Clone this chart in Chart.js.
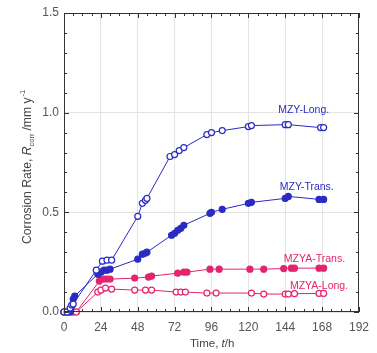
<!DOCTYPE html>
<html>
<head>
<meta charset="utf-8">
<script src="https://cdn.jsdelivr.net/npm/chart.js@4.4.1/dist/chart.umd.min.js"></script>
<style>
  html, body { margin: 0; padding: 0; background: #fff; }
  #wrap { width: 377px; height: 353px; }
</style>
</head>
<body>
<div id="wrap"><canvas id="chart"></canvas></div>
<script>
// series (time in h, rate in mm/y)
const mzyLongT = [0, 2, 4, 5, 6, 21, 25, 28, 31, 48, 51, 53, 54, 69, 72, 75, 78, 93, 96, 103, 120, 122, 144, 146, 167, 169];
const mzyLongR = [0, 0, 0.02, 0.035, 0.04, 0.21, 0.255, 0.26, 0.26, 0.48, 0.545, 0.56, 0.57, 0.78, 0.79, 0.81, 0.825, 0.89, 0.9, 0.91, 0.93, 0.935, 0.94, 0.94, 0.925, 0.925];

const mzyTransT = [0, 2, 4, 5, 6, 7, 22, 24, 26, 28, 30, 48, 51, 53, 54, 70, 72, 74, 76, 78, 95, 96, 103, 120, 122, 144, 146, 166, 169];
const mzyTransR = [0, 0, 0, 0.03, 0.065, 0.08, 0.19, 0.2, 0.21, 0.21, 0.215, 0.265, 0.29, 0.295, 0.3, 0.385, 0.395, 0.41, 0.42, 0.435, 0.495, 0.5, 0.515, 0.545, 0.55, 0.57, 0.58, 0.565, 0.565];

const mzyaTransT = [0, 2, 4, 6, 8, 23, 24, 26, 28, 30, 46, 55, 57, 74, 78, 80, 95, 101, 121, 130, 143, 148, 150, 166, 169];
const mzyaTransR = [0, 0, 0, 0, 0, 0.155, 0.165, 0.165, 0.165, 0.165, 0.17, 0.175, 0.18, 0.195, 0.2, 0.2, 0.215, 0.215, 0.215, 0.215, 0.218, 0.22, 0.22, 0.22, 0.22];

const mzyaLongT = [0, 2, 4, 6, 8, 22, 24, 27, 31, 46, 53, 57, 73, 76, 79, 93, 99, 122, 130, 144, 146, 150, 166, 169];
const mzyaLongR = [0, 0, 0, 0, 0, 0.1, 0.11, 0.12, 0.115, 0.11, 0.11, 0.11, 0.1, 0.1, 0.1, 0.095, 0.095, 0.095, 0.09, 0.09, 0.09, 0.092, 0.093, 0.093];

const xTicks = [0, 24, 48, 72, 96, 120, 144, 168, 192];
const yTicks = [0, 0.5, 1.0, 1.5];

const BLUE = "#2b2bc4";
const PINK = "#e3246e";
const FONT = "'Liberation Sans', Arial, sans-serif";

function pts(t, r) {
  return t.map((v, i) => ({ x: v, y: r[i] }));
}

function series(name, t, r, color, filled) {
  return {
    label: name,
    data: pts(t, r),
    borderColor: color,
    borderWidth: 1,
    pointRadius: 3,
    pointBorderWidth: 1.2,
    pointBorderColor: color,
    pointBackgroundColor: filled ? color : "#fff",
    tension: 0,
    clip: false,
  };
}

// in-plot labels, placed in data units
const labelNames = ["MZY-Long.", "MZY-Trans.", "MZYA-Trans.", "MZYA-Long."];
const labelT = [156, 158, 163, 166];
const labelR = [1.013, 0.627, 0.266, 0.13];
const labelColors = [BLUE, BLUE, PINK, PINK];

const framePlugin = {
  id: "frame",
  afterDraw(chart) {
    const ctx = chart.ctx;
    const a = chart.chartArea;
    const xs = chart.scales.x;
    const ys = chart.scales.y;
    ctx.save();
    ctx.strokeStyle = "#333";
    ctx.lineWidth = 1;
    ctx.strokeRect(a.left + 0.5, a.top + 0.5, a.right - a.left - 1, a.bottom - a.top - 1);
    // ticks on all four sides, pointing in
    ctx.beginPath();
    for (let t = 0; t <= 192; t += 6) {
      const px = Math.round(xs.getPixelForValue(t)) + 0.5;
      const len = t % 24 === 0 ? 5 : 3;
      ctx.moveTo(px, a.bottom);
      ctx.lineTo(px, a.bottom - len);
      ctx.moveTo(px, a.top);
      ctx.lineTo(px, a.top + len);
    }
    for (let k = 0; k <= 15; k++) {
      const py = Math.round(ys.getPixelForValue(k / 10)) + 0.5;
      const len = k % 5 === 0 ? 5 : 3;
      ctx.moveTo(a.left, py);
      ctx.lineTo(a.left + len, py);
      ctx.moveTo(a.right, py);
      ctx.lineTo(a.right - len, py);
    }
    ctx.stroke();

    // series labels
    ctx.font = "10.5px " + FONT;
    ctx.textAlign = "center";
    ctx.textBaseline = "middle";
    labelNames.forEach((s, i) => {
      ctx.fillStyle = labelColors[i];
      ctx.fillText(s, xs.getPixelForValue(labelT[i]), ys.getPixelForValue(labelR[i]));
    });

    // axis titles
    ctx.fillStyle = "#444";
    ctx.textBaseline = "alphabetic";
    ctx.textAlign = "left";
    let x = 190;
    const yb = 347;
    ctx.font = "11.5px " + FONT;
    ctx.fillText("Time, ", x, yb);
    x += ctx.measureText("Time, ").width;
    ctx.font = "italic 11.5px " + FONT;
    ctx.fillText("t", x, yb);
    x += ctx.measureText("t").width;
    ctx.font = "11.5px " + FONT;
    ctx.fillText("/h", x, yb);

    ctx.translate(31, 244);
    ctx.rotate(-Math.PI / 2);
    let p = 0;
    ctx.font = "12.2px " + FONT;
    ctx.fillText("Corrosion Rate, ", p, 0);
    p += ctx.measureText("Corrosion Rate, ").width;
    ctx.font = "italic 12.2px " + FONT;
    ctx.fillText("R", p, 0);
    p += ctx.measureText("R").width;
    ctx.font = "7.5px " + FONT;
    ctx.fillText("corr", p, 3);
    p += ctx.measureText("corr").width + 3;
    ctx.font = "12.2px " + FONT;
    ctx.fillText("/mm y", p, 0);
    p += ctx.measureText("/mm y").width;
    ctx.font = "7.5px " + FONT;
    ctx.fillText("-1", p + 1, -6);
    ctx.restore();
  },
};

new Chart(document.getElementById("chart"), {
  type: "line",
  data: {
    datasets: [
      series("MZY-Long.", mzyLongT, mzyLongR, BLUE, false),
      series("MZY-Trans.", mzyTransT, mzyTransR, BLUE, true),
      series("MZYA-Long.", mzyaLongT, mzyaLongR, PINK, false),
      series("MZYA-Trans.", mzyaTransT, mzyaTransR, PINK, true),
    ],
  },
  options: {
    responsive: true,
    maintainAspectRatio: false,
    animation: false,
    layout: { padding: { top: 13, right: 12, left: 0, bottom: 0 } },
    plugins: { legend: { display: false }, tooltip: { enabled: false } },
    scales: {
      x: {
        type: "linear",
        min: 0,
        max: 192,
        afterBuildTicks(scale) { scale.ticks = xTicks.map(v => ({ value: v })); },
        afterFit(scale) { scale.height = 41; },
        grid: { color: "#e4e4e4", drawTicks: false },
        border: { display: false },
        ticks: { color: "#555", padding: 8, font: { size: 12, family: FONT }, maxRotation: 0 },
      },
      y: {
        min: 0,
        max: 1.5,
        afterBuildTicks(scale) { scale.ticks = yTicks.map(v => ({ value: v })); },
        afterFit(scale) { scale.width = 64; },
        grid: { color: "#e4e4e4", drawTicks: false },
        border: { display: false },
        ticks: { color: "#555", padding: 5, font: { size: 12, family: FONT }, callback: v => v.toFixed(1) },
      },
    },
  },
  plugins: [framePlugin],
});
</script>
</body>
</html>
